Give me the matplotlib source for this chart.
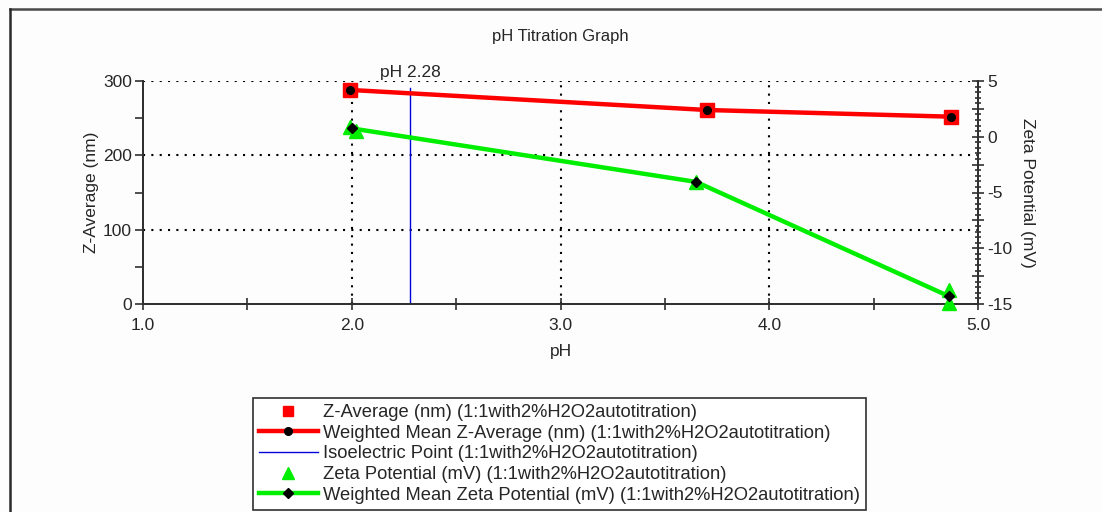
import matplotlib
matplotlib.use("Agg")
import matplotlib.pyplot as plt
from matplotlib.lines import Line2D
from matplotlib.ticker import MultipleLocator, FuncFormatter

plt.rcParams['font.family'] = ['Liberation Sans', 'DejaVu Sans']

# Z-Average measurements (nm) and their weighted mean
ph_zavg = [1.99, 3.70, 4.87]
zavg = [288, 261, 252]
ph_zavg_mean = [1.99, 3.70, 4.87]
zavg_mean = [288, 261, 252]

# Zeta potential measurements (mV) and their weighted mean
ph_zeta = [1.99, 2.02, 3.65, 4.86, 4.86]
zeta = [0.9, 0.5, -4.1, -13.7, -14.9]
ph_zeta_mean = [2.00, 3.65, 4.86]
zeta_mean = [0.75, -4.05, -14.3]

iep_ph = 2.28

labels = [
    "Z-Average (nm) (1:1with2%H2O2autotitration)",
    "Weighted Mean Z-Average (nm) (1:1with2%H2O2autotitration)",
    "Isoelectric Point (1:1with2%H2O2autotitration)",
    "Zeta Potential (mV) (1:1with2%H2O2autotitration)",
    "Weighted Mean Zeta Potential (mV) (1:1with2%H2O2autotitration)",
]

W, H = 1102, 512
fig = plt.figure(figsize=(W / 100, H / 100), dpi=100)
fig.patch.set_facecolor('#fdfdfd')

txt = '#262626'
axc = '#303030'

ax = fig.add_axes([143 / W, 1 - 304 / H, (978 - 143) / W, (304 - 81) / H])
ax.set_facecolor('none')
ax2 = ax.twinx()

ax.set_xlim(1.0, 5.0)
ax.set_ylim(0, 300)
ax2.set_ylim(-15, 5)

# grid
for gx in [2.0, 3.0, 4.0]:
    ax.axvline(gx, color='black', lw=1.5, ls=(0, (1, 3)), zorder=1)
for gy in [100, 200, 300]:
    ax.axhline(gy, color='black', lw=1.5, ls=(0, (1, 3)), zorder=1)

# spines
for a in (ax, ax2):
    a.spines['top'].set_visible(False)
    for s in ('left', 'right', 'bottom'):
        a.spines[s].set_color(axc)
        a.spines[s].set_linewidth(1.3)

ax.xaxis.set_major_locator(MultipleLocator(1.0))
ax.xaxis.set_minor_locator(MultipleLocator(0.5))
ax.xaxis.set_major_formatter(FuncFormatter(lambda v, p: f"{v:.1f}"))
ax.tick_params(axis='x', which='both', direction='inout', length=8, width=1.2,
               color=axc, labelsize=12.5, labelcolor=txt, pad=6)
ax.yaxis.set_major_locator(MultipleLocator(100))
ax.yaxis.set_minor_locator(MultipleLocator(50))
ax.tick_params(axis='y', which='both', direction='out', length=6, width=1.2,
               color=axc, labelsize=12.5, labelcolor=txt, pad=2)

ax2.yaxis.set_major_locator(MultipleLocator(2.5))
ax2.yaxis.set_minor_locator(MultipleLocator(0.5))
ax2.yaxis.set_major_formatter(FuncFormatter(lambda v, p: f"{v:.0f}" if abs(v % 5) < 1e-9 else ""))
ax2.tick_params(axis='y', which='major', direction='inout', length=9, width=1.2,
                color=axc, labelsize=12.5, labelcolor=txt, pad=2)
ax2.tick_params(axis='y', which='minor', direction='inout', length=4, width=1.2, color=axc)

# isoelectric point
ax.axvline(iep_ph, ymin=0, ymax=0.97, color='#0000dd', lw=1.0, zorder=2)
ax.text(iep_ph, 301, f"pH {iep_ph}", ha='center', va='bottom', fontsize=12.5, color=txt)

# Z-Average series
ax.plot(ph_zavg, zavg, ls='none', marker='s', ms=9.5, color='#ff0000', zorder=3)
ax.plot(ph_zavg_mean, zavg_mean, color='#ff0000', lw=3.2, marker='o',
        ms=5.5, mfc='black', mec='black', zorder=4)

# Zeta potential series
ax2.plot(ph_zeta, zeta, ls='none', marker='^', ms=10, color='#00ee00',
         zorder=3, clip_on=False)
ax2.plot(ph_zeta_mean, zeta_mean, color='#00ee00', lw=3.2, marker='D',
         ms=5.5, mfc='black', mec='black', zorder=4)

ax.set_xlabel("pH", fontsize=12.5, color=txt, labelpad=8)
ax.set_ylabel("Z-Average (nm)", fontsize=12.5, color=txt, labelpad=3)
ax2.set_ylabel("Zeta Potential (mV)", fontsize=12.5, color=txt, rotation=270,
               labelpad=16)
fig.text(560 / W, 1 - 36 / H, "pH Titration Graph", ha='center', va='center',
         fontsize=12, color=txt)

# legend
leg_handles = [
    Line2D([], [], ls='none', marker='s', ms=6.5, color='#ff0000'),
    Line2D([], [], color='#ff0000', lw=3.2, marker='o', ms=5.5, mfc='black', mec='black'),
    Line2D([], [], color='#0000dd', lw=1.0),
    Line2D([], [], ls='none', marker='^', ms=8, color='#00ee00'),
    Line2D([], [], color='#00ee00', lw=3.2, marker='D', ms=5.5, mfc='black', mec='black'),
]
leg = fig.legend(leg_handles, labels, loc='upper left',
                 bbox_to_anchor=(253 / W, 1 - 398 / H), fontsize=13.2,
                 frameon=True, fancybox=False, edgecolor=axc, framealpha=1,
                 handlelength=3.2, handletextpad=0.3, labelspacing=0.2,
                 borderpad=0.33, borderaxespad=0, numpoints=1)
leg.get_frame().set_linewidth(1.2)
for t in leg.get_texts():
    t.set_color(txt)

# page frame
fig.add_artist(Line2D([10 / W, 1], [1 - 9 / H, 1 - 9 / H], transform=fig.transFigure,
                      color='#4a4a4a', lw=1.8))
fig.add_artist(Line2D([10 / W, 10 / W], [0, 1 - 9 / H], transform=fig.transFigure,
                      color='#2a2a2a', lw=1.8))

fig.savefig("out.png", dpi=100, facecolor=fig.get_facecolor())
